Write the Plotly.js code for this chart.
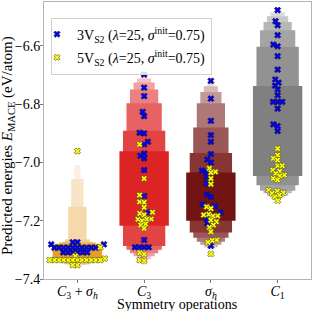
<!DOCTYPE html>
<html><head><meta charset="utf-8">
<script src="https://cdn.plot.ly/plotly-3.0.1.min.js"></script>
<style>html,body{margin:0;padding:0;background:#fff}#chart{width:313px;height:311px}</style>
</head><body><div id="chart"></div>
<script>
// ---------------- DATA ----------------
const categories = ['C3 + σh', 'C3', 'σh', 'C1'];
const tickLabels = [
  '<i>C</i><sub>3</sub> + <i>σ</i><sub><i>h</i></sub>',
  '<i>C</i><sub>3</sub>',
  '<i>σ</i><sub><i>h</i></sub>',
  '<i>C</i><sub>1</sub>'
];
const seriesNames = [
  '3V<sub>S2</sub> (<i>λ</i>=25, <i>σ</i><sup>init</sup>=0.75)',
  '5V<sub>S2</sub> (<i>λ</i>=25, <i>σ</i><sup>init</sup>=0.75)'
];
const yTicks = [-7.4, -7.2, -7.0, -6.8, -6.6];
const yTickText = ['\u22127.4', '\u22127.2', '\u22127.0', '\u22126.8', '\u22126.6'];
const xTitle = 'Symmetry operations';
const yTitle = 'Predicted energies <i>E</i><sub>MACE</sub> (eV/atom)';

// Predicted energies (eV/atom), 3V_S2 series
const e3V_C3sh = [-7.274, -7.274, -7.281, -7.281, -7.2925, -7.2925, -7.2925, -7.2925, -7.2925, -7.2925, -7.2925, -7.2925, -7.2925, -7.2925, -7.3085, -7.3085, -7.3085, -7.3085, -7.3085, -7.3085];
const e3V_C3   = [-6.698, -6.743, -6.772, -6.826, -6.841, -6.898, -6.900, -6.929, -6.938, -6.969, -6.977, -6.986, -7.026, -7.115, -7.171, -7.266, -7.291, -7.291, -7.291, -7.291];
const e3V_sh   = [-6.720, -6.781, -6.857, -6.906, -6.929, -6.971, -6.990, -7.000, -7.028, -7.032, -7.049, -7.072, -7.110, -7.118, -7.144, -7.150, -7.171, -7.192, -7.209, -7.286];
const e3V_C1   = [-6.477, -6.515, -6.529, -6.563, -6.595, -6.601, -6.635, -6.681, -6.715, -6.726, -6.736, -6.749, -6.769, -6.792, -6.792, -6.792, -6.815, -6.869, -6.875, -6.892];

// Predicted energies (eV/atom), 5V_S2 series
const e5V_C3sh = [-6.961, -7.291, -7.321, -7.330, -7.335, -7.335, -7.335, -7.335, -7.335, -7.335, -7.335, -7.335, -7.335, -7.335, -7.335, -7.335, -7.352, -7.352];
const e5V_C3   = [-6.938, -7.055, -7.112, -7.135, -7.137, -7.154, -7.171, -7.175, -7.180, -7.194, -7.195, -7.195, -7.200, -7.211, -7.215, -7.226, -7.310, -7.315, -7.335, -7.338];
const e5V_sh   = [-7.020, -7.032, -7.035, -7.055, -7.074, -7.152, -7.158, -7.178, -7.180, -7.183, -7.184, -7.198, -7.203, -7.215, -7.223, -7.238, -7.266, -7.268, -7.274, -7.314];
const e5V_C1   = [-6.952, -6.975, -6.986, -6.992, -7.011, -7.011, -7.026, -7.030, -7.038, -7.043, -7.046, -7.055, -7.060, -7.095, -7.098, -7.104, -7.106, -7.112, -7.118, -7.131];

// Letter-value box bounds (innermost -> outermost)
const lvLow_C3sh  = [-7.329, -7.335, -7.341, -7.346, -7.350, -7.352, -7.354, -7.356];
const lvHigh_C3sh = [-7.281, -7.279, -7.275, -7.272, -7.264, -7.152, -7.057, -7.009];
const lvLow_C3    = [-7.217, -7.287, -7.300, -7.312, -7.322, -7.332, -7.342];
const lvHigh_C3   = [-6.961, -6.891, -6.797, -6.749, -6.725, -6.712, -6.703];
const lvLow_sh    = [-7.200, -7.240, -7.258, -7.272, -7.282, -7.291, -7.300];
const lvHigh_sh   = [-7.034, -6.967, -6.880, -6.797, -6.758, -6.738, -6.729];
const lvLow_C1    = [-7.046, -7.078, -7.097, -7.106, -7.115, -7.123, -7.130];
const lvHigh_C1   = [-6.737, -6.603, -6.546, -6.518, -6.498, -6.484, -6.470];

// ---------------- STYLE ----------------
const W = 313, H = 311;
const M = {l: 44, r: 2, t: 2, b: 32};
const xRange = [-0.5, 3.5];
const yRange = [-7.4, -6.449];
const boxWidth = 0.74;
const baseColors = [[231, 158, 42], [221, 36, 36], [115, 20, 20], [128, 128, 128]];
const FONT = 'Liberation Serif, Times New Roman, serif';
const markerD = 4.6; // swarm spacing in px

const groups = [
  {e3: e3V_C3sh, e5: e5V_C3sh, lo: lvLow_C3sh, hi: lvHigh_C3sh},
  {e3: e3V_C3,   e5: e5V_C3,   lo: lvLow_C3,   hi: lvHigh_C3},
  {e3: e3V_sh,   e5: e5V_sh,   lo: lvLow_sh,   hi: lvHigh_sh},
  {e3: e3V_C1,   e5: e5V_C1,   lo: lvLow_C1,   hi: lvHigh_C1}
];

const plotW = W - M.l - M.r, plotH = H - M.t - M.b;
const pxPerX = plotW / (xRange[1] - xRange[0]);
const pxPerY = plotH / (yRange[1] - yRange[0]);

function blend(c, f) {
  return 'rgb(' + c.map(v => Math.round(v + f * (255 - v))).join(',') + ')';
}

function swarm(vals) {
  const ys = vals.map(v => v * pxPerY);
  const order = ys.map((_, i) => i).sort((a, b) => ys[a] - ys[b]);
  const placed = [], xs = new Array(vals.length);
  const d2 = markerD * markerD;
  for (const i of order) {
    const y = ys[i];
    const near = placed.filter(p => Math.abs(p.y - y) < markerD);
    const cands = [0];
    for (const p of near) {
      const dx = Math.sqrt(d2 - (p.y - y) ** 2);
      cands.push(p.x - dx, p.x + dx);
    }
    cands.sort((a, b) => (Math.abs(a) - Math.abs(b)) || (a - b));
    for (const c of cands) {
      if (near.every(p => (p.x - c) ** 2 + (p.y - y) ** 2 >= d2 - 1e-6)) {
        xs[i] = c; placed.push({x: c, y: y}); break;
      }
    }
  }
  return xs.map(x => x / pxPerX);
}

const traces = [];
groups.forEach((g, gi) => {
  const k = g.lo.length;
  for (let j = k - 1; j >= 0; j--) {
    traces.push({
      type: 'bar', x: [gi], base: [g.lo[j]], y: [g.hi[j] - g.lo[j]],
      width: [boxWidth * (k - j) / k],
      marker: {color: blend(baseColors[gi], 0.85 * j / (k - 1)), line: {width: 0}},
      showlegend: false, hoverinfo: 'skip'
    });
  }
});

const sx = [[], []], sy = [[], []];
groups.forEach((g, gi) => {
  const all = g.e3.concat(g.e5);
  const off = swarm(all);
  all.forEach((v, i) => {
    const s = i < g.e3.length ? 0 : 1;
    sx[s].push(gi + off[i]); sy[s].push(v);
  });
});

const mColors = ['#0000ee', '#ffff00'];
const mLines = ['#1a1a4a', '#555533'];
[0, 1].forEach(s => {
  traces.push({
    type: 'scatter', mode: 'markers', x: sx[s], y: sy[s], name: seriesNames[s],
    legendgroup: 'g' + s,
    marker: {symbol: 'x', size: 5.5, color: mColors[s], line: {color: mLines[s], width: 0.7}},
    hoverinfo: 'skip', cliponaxis: false
  });
});

const axisCommon = {
  showline: true, mirror: true, linecolor: '#b5b5b5', linewidth: 1,
  ticks: 'outside', ticklen: 3, tickcolor: '#777', showgrid: false, zeroline: false,
  tickfont: {family: FONT, size: 14, color: '#000'}
};

const layout = {
  width: W, height: H, margin: M,
  paper_bgcolor: '#fff', plot_bgcolor: '#fff',
  barmode: 'overlay', showlegend: true,
  font: {family: FONT, size: 15, color: '#000'},
  xaxis: Object.assign({}, axisCommon, {
    range: xRange, tickvals: [0, 1, 2, 3], ticktext: tickLabels, ticklabelstandoff: -4
  }),
  yaxis: Object.assign({}, axisCommon, {
    range: yRange, tickvals: yTicks, ticktext: yTickText, ticklabelstandoff: -3
  }),
  annotations: [
    {text: xTitle, xref: 'paper', yref: 'paper', x: (177 - M.l) / plotW, y: -(304 - M.t - plotH) / plotH,
     xanchor: 'center', yanchor: 'middle', showarrow: false, font: {family: FONT, size: 14, color: '#000'}},
    {text: yTitle, xref: 'paper', yref: 'paper', x: -(M.l - 8) / plotW, y: 1 - (146 - M.t) / plotH,
     xanchor: 'center', yanchor: 'middle', textangle: -90, showarrow: false,
     font: {family: FONT, size: 15, color: '#000'}}
  ],
  legend: {
    x: (51 - M.l) / plotW, y: 0.944, xanchor: 'left', yanchor: 'top', indentation: -15,
    bgcolor: 'rgba(255,255,255,0.85)', bordercolor: '#d0d0d0', borderwidth: 1,
    font: {family: FONT, size: 14, color: '#000'}, tracegroupgap: 2
  }
};

Plotly.newPlot('chart', traces, layout, {staticPlot: true, displayModeBar: false});
</script>
</body></html>
